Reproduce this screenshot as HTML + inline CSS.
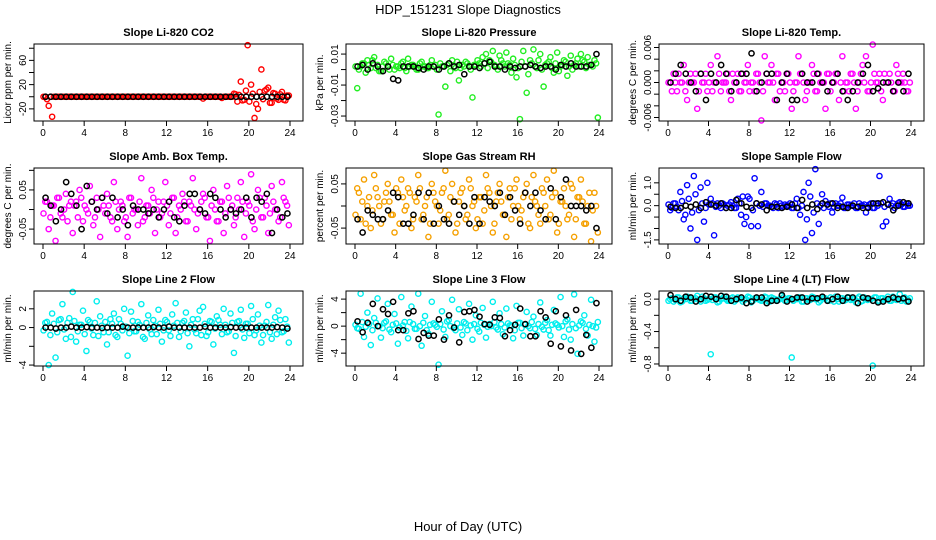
<!DOCTYPE html>
<html><head><meta charset="utf-8">
<style>
body{margin:0;background:#fff;}
svg{display:block;font-family:"Liberation Sans",sans-serif;}
</style></head>
<body>
<svg id="c" width="936" height="540" viewBox="0 0 936 540">
<text x="468" y="14" text-anchor="middle" font-size="13">HDP_151231  Slope Diagnostics</text>
<text x="468" y="531" text-anchor="middle" font-size="13">Hour of Day (UTC)</text>
</svg>
<script>
const xTicks=[0,4,8,12,16,20,24];
const titles=["Slope Li-820 CO2","Slope Li-820 Pressure","Slope Li-820 Temp.","Slope Amb. Box Temp.","Slope Gas Stream RH","Slope Sample Flow","Slope Line 2 Flow","Slope Line 3 Flow","Slope Line 4 (LT) Flow"];
const yTitles=["Licor ppm per min.","kPa per min.","degrees C per min.","degrees C per min.","percent per min.","ml/min per min.","ml/min per min.","ml/min per min.","ml/min per min."];
const yLims=[[-40,87],[-0.0332,0.0165],[-0.0066,0.0066],[-0.088,0.106],[-0.086,0.086],[-1.68,1.65],[-4.1,3.9],[-5.9,5.2],[-0.825,0.1]];
const yTicks=[[-20,0,20,40,60,80],[-0.03,-0.02,-0.01,0,0.01],[-0.006,-0.004,-0.002,0,0.002,0.004,0.006],[-0.05,0,0.05,0.1],[-0.05,0,0.05],[-1.5,-1,-0.5,0,0.5,1],[-4,-2,0,2],[-4,-2,0,2,4],[-0.8,-0.6,-0.4,-0.2,0]];
const yTickLabels=[["-20","","20","","60",""],["-0.03","","-0.01","","0.01"],["-0.006","","","0.000","","","0.006"],["-0.05","","0.05",""],["-0.05","","0.05"],["-1.5","","","0.0","","1.0"],["-4","","0","2"],["-4","","0","","4"],["-0.8","","-0.4","","0.0"]];
const colors=["#ff0000","#22ee22","#ff00ff","#ff00ff","#f5a000","#0000ff","#00eeee","#00eeee","#00eeee"];
const c1=[0,-15,-33,0,0,0,0,0,0,0,0,0,0,0,0,0,0,0,0,0,0,0,0,0,0,0,0,0,0,0,0,0,0,0,0,0,0,0,0,0,0,0,0,0,0,0,-3,0,0,0,0,0,0,0,0,5,-8,25,-5,85,20,-35,-20,45,10,15,-10,5,-5,8,-6,2];
const d1=[0,-4,0,0,0,0,0,0,0,0,0,0,0,0,0,0,0,0,0,0,0,0,0,0,0,0,0,0,0,0,0,0,0,0,0,0,0,0,0,0,0,0,0,0,0,0,0,0,0,0,0,0,-2,0,0,0,4,3,-6,10,-8,5,-12,8,-4,12,-10,6,-3,4,-5,2];
const b1=[0,0,0,0,0,0,0,0,0,0,0,0,0,0,0,0,0,0,0,0,0,0,0,0,0,0,0,0,0,0,0,0,0,0,0,0,0,0,0,0,0,0,0,0,0,0,0,0];
const c2=[-0.012,0.002,0.004,0.006,0.001,0.008,0.003,-0.001,0.005,0.002,0.007,0.000,0.002,0.004,0.001,0.007,0.003,0.002,0.000,0.005,0.002,0.001,0.006,0.003,-0.029,0.002,-0.011,0.004,0.006,0.001,-0.007,0.003,0.005,0.002,-0.018,0.003,0.004,0.008,0.010,0.006,0.012,0.002,0.009,0.004,0.011,0.003,0.007,-0.005,-0.032,0.012,-0.015,0.006,0.013,0.001,0.010,-0.011,0.004,0.008,-0.002,0.011,0.002,0.006,-0.004,0.009,0.003,0.007,0.010,0.005,0.008,0.003,0.006,-0.031];
const d2=[0.002,0.000,0.004,-0.002,0.003,0.006,0.001,-0.001,0.002,0.004,0.000,0.003,0.002,0.001,0.005,-0.001,0.002,0.003,0.000,0.004,0.002,0.001,0.003,0.002,0.000,0.004,0.002,0.003,-0.001,0.002,0.005,0.001,0.002,0.004,0.000,0.003,0.006,0.002,0.004,0.001,0.005,0.003,0.000,0.006,0.002,0.004,-0.002,0.003,0.001,0.005,0.002,-0.003,0.004,0.002,0.006,0.000,0.003,0.005,0.001,0.004,-0.001,0.003,0.005,0.002,0.000,0.004,0.002,0.006,0.001,0.003,0.002,0.004];
const b2=[0.002,0.003,0.000,0.004,0.002,-0.001,0.002,-0.006,-0.007,0.002,0.002,0.002,0.001,0.000,0.002,0.002,0.000,0.002,0.004,0.002,0.003,-0.003,0.002,0.002,0.001,0.004,0.005,0.002,0.002,0.000,0.002,0.001,0.002,0.002,0.003,0.002,0.001,0.002,0.002,0.000,0.003,0.002,0.004,0.002,0.002,0.002,0.003,0.010];
const c3=[0,0.0015,-0.0015,0,0.003,-0.003,0.0015,0,-0.0045,0.0015,0,-0.0015,0.003,0,0.0045,-0.0015,0,0.0015,-0.003,0,0.0015,-0.0015,0,0.003,0,-0.0015,0.0015,-0.0065,0.0045,0,0.003,-0.003,0.0015,0,-0.0015,0.0015,-0.0045,0,0.0045,0.0015,-0.003,0,0.003,-0.0015,0.0015,0,-0.0045,0.0015,0,0.0015,-0.003,0.0045,0,-0.0015,0.0015,-0.0045,0,0.003,0.0045,-0.0015,0.0065,0,0.0015,-0.003,0,0.0015,-0.0015,0.003,0,0.0015,-0.0015,0];
const d3=[0,-0.0015,0,0.0015,0,-0.0015,0,0,0.0015,-0.0015,0,0.0015,0,-0.0015,0,0.0015,0,0,-0.0015,0.0015,0,-0.0015,0.0015,0,-0.0015,0,0.0015,0,-0.0015,0.0015,0,0,0.0015,-0.0015,0,0.0015,0,-0.0015,0,0.0015,0,-0.0015,0,0.0015,-0.0015,0,0,0.0015,-0.0015,0,0.0015,0,-0.0015,0,0.0015,0,-0.0015,0.0015,0,-0.0015,0,0.0015,0,-0.0015,0.0015,0,0,-0.0015,0.0015,0,0,-0.0015];
const b3=[0,0.0015,0.003,0.0015,0,-0.0015,0.0015,-0.003,0.0015,0,0.003,0.0015,-0.0015,0,0.0015,0.0015,0.005,-0.0015,0,0.0015,0.0015,-0.003,0,0.0015,-0.003,-0.003,0.0015,0,0,0.0015,0,-0.0015,0,0.0015,-0.0015,-0.003,-0.0015,0,0.0015,0.003,-0.0015,-0.001,0,0,-0.0015,0,-0.0015,0.0015];
const c4=[0.02,-0.05,0.01,-0.08,0.03,-0.02,0.04,0.01,-0.06,0.02,0.05,-0.03,0.00,0.06,-0.04,0.03,-0.07,0.01,0.04,-0.02,0.07,-0.05,0.02,-0.03,-0.07,0.03,0.00,-0.04,0.08,-0.02,0.01,0.05,-0.06,0.02,-0.01,0.07,-0.04,0.03,-0.06,0.01,0.04,-0.03,0.02,0.08,-0.05,0.00,0.04,-0.02,-0.08,0.05,-0.03,0.02,-0.06,0.06,0.00,-0.04,0.03,0.07,-0.07,0.02,0.09,-0.05,0.05,-0.02,0.03,-0.06,0.06,0.00,-0.03,0.07,0.02,-0.04];
const d4=[-0.01,0.02,-0.02,0.01,0.03,-0.01,0.00,-0.03,0.02,0.01,-0.02,0.03,0.01,-0.01,0.02,-0.02,0.00,0.03,-0.01,0.01,-0.03,0.02,0.00,0.01,-0.02,0.03,-0.01,0.00,0.02,-0.03,0.01,-0.01,0.03,0.00,-0.02,0.02,0.01,-0.01,0.03,-0.02,0.00,0.02,-0.03,0.01,0.00,-0.01,0.02,0.03,-0.02,0.01,0.00,-0.03,0.02,-0.01,0.03,0.01,-0.02,0.00,0.02,-0.01,0.01,-0.03,0.00,0.03,-0.02,0.01,-0.01,0.02,0.00,-0.02,0.03,0.01];
const b4=[0.03,0.01,-0.03,0.00,0.07,0.04,0.01,-0.05,0.06,0.02,0.00,0.03,-0.01,0.03,-0.02,0.00,-0.04,0.01,0.00,0.00,-0.01,0.00,-0.02,0.00,0.02,-0.02,-0.03,0.01,0.04,0.04,0.00,-0.01,0.04,0.03,0.00,-0.02,0.00,-0.01,0.00,0.03,-0.02,0.03,0.02,0.04,-0.06,0.00,-0.02,-0.01];
const c5=[0.04,-0.03,0.06,0.00,-0.05,0.07,0.02,-0.04,0.01,0.05,-0.02,-0.06,0.03,0.06,-0.01,0.04,-0.05,0.02,0.07,-0.03,0.00,-0.07,0.05,0.01,-0.04,0.03,0.08,-0.02,0.05,-0.06,0.01,0.04,-0.03,0.06,0.00,-0.05,0.02,-0.04,0.07,0.03,-0.06,0.01,0.05,-0.02,-0.07,0.04,0.00,0.06,-0.03,0.02,0.05,-0.05,0.07,0.00,-0.04,0.03,0.06,-0.02,0.08,-0.06,0.01,0.04,-0.03,0.05,-0.07,0.02,0.06,-0.04,0.00,-0.08,0.03,-0.06];
const d5=[-0.02,0.03,0.01,-0.04,0.02,-0.01,0.04,0.00,-0.03,0.03,0.01,-0.02,0.04,-0.04,0.02,0.00,0.03,-0.03,0.01,0.04,-0.02,0.02,-0.04,0.03,0.00,-0.01,0.04,-0.03,0.02,0.01,-0.04,0.03,0.00,-0.02,0.04,0.01,-0.03,0.02,-0.01,0.04,0.00,-0.04,0.03,0.01,-0.02,0.02,-0.03,0.04,0.00,-0.01,0.03,-0.04,0.02,0.01,-0.02,0.04,0.00,-0.03,0.02,0.03,-0.04,0.01,0.00,-0.02,0.04,-0.03,0.02,0.01,-0.04,0.03,-0.01,0.00];
const b5=[-0.03,-0.06,-0.01,-0.02,-0.03,-0.03,-0.01,0.03,0.02,-0.04,-0.04,-0.02,0.03,-0.03,0.03,-0.04,0.00,-0.03,-0.04,0.01,-0.02,0.00,-0.04,0.02,-0.04,0.02,0.01,0.00,0.03,-0.02,0.02,-0.01,-0.04,0.03,0.00,0.03,-0.01,-0.03,0.04,-0.03,0.02,0.06,0.00,0.00,0.00,-0.01,0.00,-0.05];
const c6=[-0.2,0.1,-0.05,0.6,-0.6,0.9,-1.0,1.3,-1.5,0.8,-0.7,1.0,0.3,-1.3,0.1,-0.1,0.05,0.0,0.15,-0.1,0.3,-0.4,-0.8,0.4,-0.9,1.2,-0.9,0.6,0.1,0.0,-0.05,0.1,-0.1,0.0,0.05,0.0,-0.1,0.1,-0.1,0.0,-1.5,1.0,-1.2,1.6,-0.8,0.5,0.2,-0.05,-0.3,0.1,0.0,0.35,-0.1,0.05,0.0,-0.1,0.1,0.0,-0.3,0.05,-0.1,0.1,1.3,-0.9,-0.7,0.3,0.1,0.0,0.15,-0.05,0.1,0.0];
const d6=[0.05,-0.1,0.1,-0.2,0.2,-0.4,0.3,-0.3,0.5,-0.2,0.1,-0.1,0.05,0.1,-0.05,0.0,0.1,-0.1,0.05,0.0,-0.1,0.1,0.4,-0.5,0.3,-0.2,0.1,0.0,-0.05,0.1,0.0,-0.1,0.05,0.1,-0.05,0.0,0.1,-0.1,0.3,-0.4,0.6,-0.6,0.4,-0.3,0.1,0.0,-0.1,0.05,0.1,-0.05,0.0,0.1,-0.1,0.05,0.0,0.1,-0.1,0.0,0.05,-0.05,0.1,-0.1,0.0,0.1,-0.05,0.05,0.0,-0.1,0.1,0.05,-0.05,0.0];
const b6=[-0.05,-0.1,-0.1,0.0,-0.05,0.05,-0.1,0.15,0.05,0.0,0.1,-0.1,-0.1,0.25,0.1,-0.05,-0.1,0.1,0.05,-0.2,-0.05,-0.05,-0.1,-0.05,0.05,-0.1,0.25,-0.1,0.05,-0.15,0.1,0.05,0.1,-0.1,-0.05,-0.1,0.0,-0.05,-0.1,-0.1,0.1,0.1,0.15,0.05,-0.2,0.0,0.15,0.1];
const c7=[0.5,-4.0,1.5,-3.2,0.8,2.5,-1.2,1.0,3.8,-1.5,0.3,1.8,-2.5,0.6,-0.8,2.8,1.2,-0.5,-1.8,0.9,1.5,-1.0,0.4,2.0,-3.0,1.7,-0.4,0.6,2.5,-1.2,1.3,-0.7,0.2,1.9,-1.5,0.8,-0.3,1.4,2.6,-1.0,0.5,1.6,-2.0,0.9,-0.6,1.8,2.2,-0.9,0.7,-1.8,1.2,0.3,2.0,-0.5,1.5,-2.7,0.6,1.9,-1.1,0.4,2.3,-0.8,1.4,-1.6,0.2,2.4,-1.2,1.1,1.8,-0.5,0.9,-1.6];
const d7=[-0.3,0.6,-0.8,0.4,-0.5,0.9,-0.2,0.5,-1.0,0.7,-0.4,0.3,-0.7,0.8,-0.1,0.5,-0.9,0.2,0.6,-0.5,0.4,-0.8,0.9,-0.3,0.1,-0.6,0.7,-0.4,0.3,-1.0,0.5,-0.2,0.8,-0.7,0.4,-0.3,0.6,-0.9,0.2,0.5,-0.4,0.7,-0.6,0.3,-0.2,0.9,-0.8,0.4,-0.5,0.6,-0.1,0.8,-0.7,0.3,-0.4,0.5,-0.9,0.7,-0.2,0.4,-0.6,0.9,-0.3,0.2,-0.8,0.6,-0.5,0.3,-0.7,0.8,-0.4,0.1];
const b7=[0,0,-0.1,0,0,0.1,0,0,0.05,0,0,-0.05,0,0,0,0.1,0,0,0,0,0,0.05,0,0,0.1,0,0,0,0,0,0,0.1,0,0,0,0,0.05,0,0,0,0,0,0,0,0,0.05,0,-0.1];
const c8=[-0.3,4.8,-1.6,2.0,-2.8,1.2,4.1,-1.7,0.5,3.3,-0.9,1.8,-2.6,4.3,0.6,-1.8,2.9,-0.4,4.8,-2.9,1.5,-1.1,3.6,0.2,-5.7,2.2,-1.6,0.9,3.9,-0.6,2.5,-1.3,0.4,3.3,-2.0,1.6,-0.8,2.7,-1.7,0.3,3.6,-0.2,1.9,-1.2,2.6,0.1,-1.8,3.0,0.5,-1.4,2.1,-0.3,1.4,-1.3,3.5,-0.5,0.9,-1.4,2.4,0.2,4.3,-1.6,1.0,-2.0,4.7,-4.1,0.7,1.6,-1.4,3.9,-2.3,0.6];
const d8=[0.2,-0.4,0.6,-0.1,0.3,-0.6,0.5,0.0,-0.3,0.7,-0.5,0.2,0.4,-0.2,0.1,-0.7,0.6,0.3,-0.4,0.0,0.5,-0.6,0.2,0.4,-0.1,0.3,-0.5,0.7,0.0,-0.3,0.4,-0.2,0.6,-0.6,0.1,0.3,-0.4,0.5,0.2,-0.1,0.0,0.6,-0.5,0.3,-0.2,0.4,0.1,-0.6,0.5,-0.3,0.2,0.0,0.6,-0.4,0.3,-0.1,0.5,-0.6,0.2,0.4,-0.2,0.0,0.7,-0.5,0.3,-0.3,0.1,0.5,-0.4,0.2,0.0,-0.2];
const b8=[0.7,-0.9,0.5,3.3,0.0,2.5,1.8,3.6,-0.6,-0.6,1.9,2.2,-1.9,-1.0,-1.4,-1.4,1.0,-2.0,1.6,-0.2,-2.4,2.1,2.2,2.4,1.4,0.3,0.2,1.3,1.2,-1.5,-0.6,0.2,2.6,0.3,-1.5,-1.5,2.2,1.3,-2.6,2.2,-3.0,1.6,-3.6,2.4,-4.1,-1.3,-3.2,3.4];
const c9=[0.0,-0.03,0.02,-0.04,0.01,0.03,-0.02,0.0,0.04,-0.03,0.01,-0.01,-0.68,0.02,-0.04,0.0,0.03,-0.02,0.01,-0.03,0.02,0.0,-0.01,0.03,-0.04,0.01,0.0,-0.02,0.03,-0.03,0.02,0.0,-0.01,0.04,-0.02,0.01,-0.72,0.0,0.02,-0.03,0.01,-0.01,0.03,0.0,-0.04,0.02,0.01,-0.02,0.0,0.03,-0.03,0.01,-0.01,0.02,0.0,-0.04,0.03,-0.02,0.01,0.0,-0.82,0.02,-0.03,0.01,0.0,-0.02,0.03,-0.01,0.06,0.0,-0.03,0.01];
const d9=[-0.02,0.01,-0.01,0.02,-0.03,0.0,0.02,-0.02,0.01,-0.01,0.03,-0.02,0.0,-0.01,0.02,-0.03,0.01,0.0,-0.02,0.02,-0.01,0.01,-0.03,0.0,0.02,-0.02,0.01,-0.01,0.0,0.02,-0.03,0.01,-0.02,0.0,0.02,-0.01,0.01,-0.02,0.0,0.02,-0.03,0.01,-0.01,0.02,0.0,-0.02,0.01,-0.01,0.02,-0.03,0.0,0.01,-0.02,0.02,-0.01,0.0,0.01,-0.03,0.02,-0.01,0.0,0.02,-0.02,0.01,-0.01,0.03,-0.02,0.0,0.01,-0.02,0.02,-0.01];
const b9=[0.05,0.0,-0.02,0.03,0.02,-0.03,0.0,0.04,0.03,0.0,0.04,0.03,-0.02,0.0,0.02,-0.05,-0.03,0.02,0.02,-0.05,-0.02,-0.02,0.05,-0.03,0.0,0.02,0.02,-0.03,0.01,0.01,0.03,-0.02,0.0,0.03,-0.02,0.02,0.02,-0.05,0.02,0.01,-0.02,-0.04,-0.03,0.0,0.02,0.0,0.01,-0.03];
const colorSeries=[c1,c2,c3,c4,c5,c6,c7,c8,c9];
const bandSeries=[d1,d2,d3,d4,d5,d6,d7,d8,d9];
const blackSeries=[b1,b2,b3,b4,b5,b6,b7,b8,b9];

const NS="http://www.w3.org/2000/svg";
const svg=document.getElementById('c');
const colL=[34,346,659], colR=[303,612,924], rowT=[44,168,291], rowB=[121,244,366];
function mk(tag,attrs,parent,txt){const e=document.createElementNS(NS,tag);for(const k in attrs)e.setAttribute(k,attrs[k]);if(txt!==undefined)e.textContent=txt;parent.appendChild(e);return e;}
for(let p=0;p<9;p++){
  const L=colL[p%3],R=colR[p%3],T=rowT[Math.floor(p/3)],B=rowB[Math.floor(p/3)];
  const xs=h=>L+9+h*(R-L-22)/24;
  const [y0,y1]=yLims[p];
  const ys=v=>B-(v-y0)/(y1-y0)*(B-T);
  const g=mk('g',{},svg);
  
  
  const t=mk('text',{x:(L+R)/2,y:T-8,'text-anchor':'middle','font-size':11,'font-weight':'bold'},g,titles[p]);
  
  
  const ds=bandSeries[p];
  ds.forEach((v,i)=>{const c=mk('circle',{cx:xs(i*24/ds.length+0.05),cy:ys(v),r:2.6,fill:'none',stroke:colors[p],'stroke-width':1.4},g);
    
    });
  const cs=colorSeries[p];
  cs.forEach((v,i)=>{const c=mk('circle',{cx:xs(i*24/cs.length+0.22),cy:ys(v),r:2.6,fill:'none',stroke:colors[p],'stroke-width':1.4},g);
    
    });
  const bs=blackSeries[p];
  bs.forEach((v,i)=>{const c=mk('circle',{cx:xs((i+0.5)*24/bs.length),cy:ys(v),r:2.6,fill:'none',stroke:'#000','stroke-width':1.5},g);
    
    });
  const box=mk('rect',{x:L,y:T,width:R-L,height:B-T,fill:'none',stroke:'#000','stroke-width':1},g);
  
  
  xTicks.forEach(h=>{mk('line',{x1:xs(h),x2:xs(h),y1:B,y2:B+5,stroke:'#000'},g);
    const tl=mk('text',{x:xs(h),y:B+15,'text-anchor':'middle','font-size':10},g,h);
    
    });
  yTicks[p].forEach((v,i)=>{mk('line',{x1:L-5,x2:L,y1:ys(v),y2:ys(v),stroke:'#000'},g);
    if(yTickLabels[p][i]){const tl=mk('text',{x:L-8,y:ys(v),'text-anchor':'middle','font-size':10,transform:`rotate(-90 ${L-8} ${ys(v)})`},g,yTickLabels[p][i]);
      
      }});
  const yt=mk('text',{x:L-23,y:(T+B)/2,'text-anchor':'middle','font-size':10,transform:`rotate(-90 ${L-23} ${(T+B)/2})`},g,yTitles[p]);
  
  
}
</script>
</body></html>
